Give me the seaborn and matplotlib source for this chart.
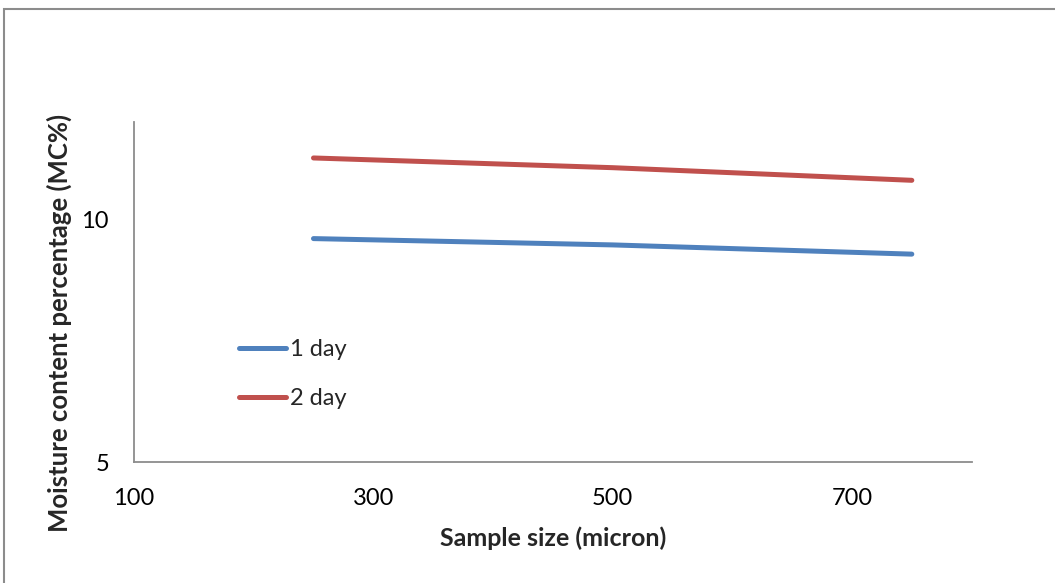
import matplotlib
matplotlib.use("Agg")
import matplotlib.pyplot as plt
import seaborn as sns
import pandas as pd
from matplotlib.patches import Rectangle

# Data
sample_size = [250, 500, 750]
mc_1day = [9.60, 9.47, 9.28]
mc_2day = [11.26, 11.06, 10.80]
series_names = ["1 day", "2 day"]
x_ticks = [100, 300, 500, 700]
y_ticks = [5, 10]

df = pd.DataFrame({
    "Sample size": sample_size * 2,
    "MC": mc_1day + mc_2day,
    "Series": [series_names[0]] * len(sample_size) + [series_names[1]] * len(sample_size),
})

sns.set_theme(style="white")
plt.rcParams["font.family"] = ["Lato", "DejaVu Sans"]

fig = plt.figure(figsize=(10.55, 5.83), dpi=100)
ax = fig.add_axes([0.127, 0.2075, 0.794, 0.5832])

sns.lineplot(data=df, x="Sample size", y="MC", hue="Series",
             palette={"1 day": "#4F81BD", "2 day": "#C0504D"},
             linewidth=3.6, ax=ax, legend=True)
for ln in ax.get_lines():
    ln.set_solid_capstyle("round")

ax.set_xlim(100, 800)
ax.set_ylim(5, 12)
ax.set_xticks(x_ticks)
ax.set_yticks(y_ticks)
ax.tick_params(axis="x", length=0, pad=19, labelsize=17, colors="#000000")
ax.tick_params(axis="y", length=0, pad=18, labelsize=17, colors="#000000")

for s in ["top", "right"]:
    ax.spines[s].set_visible(False)
for s in ["left", "bottom"]:
    ax.spines[s].set_color("#8c8c8c")
    ax.spines[s].set_linewidth(1.3)

ax.set_xlabel("Sample size (micron)", fontsize=18, fontweight="bold", labelpad=12)
ax.set_ylabel("Moisture content percentage (MC%)", fontsize=18.5, fontweight="bold")
ax.yaxis.set_label_coords(-0.074, 0.41)

leg = ax.legend(loc="upper left", bbox_to_anchor=(0.1, 0.425), frameon=False,
                fontsize=17, handlelength=2.0, handletextpad=0.15, labelspacing=1.2)
for h in leg.get_lines():
    h.set_linewidth(3.6)
    h.set_solid_capstyle("round")

# outer chart frame
fig.patches.append(Rectangle((4 / 1055, -0.05), 1.2, 1 - 9 / 583 + 0.05,
                             transform=fig.transFigure, fill=False,
                             edgecolor="#8c8c8c", linewidth=1.5))

fig.savefig("out.png", dpi=100)
